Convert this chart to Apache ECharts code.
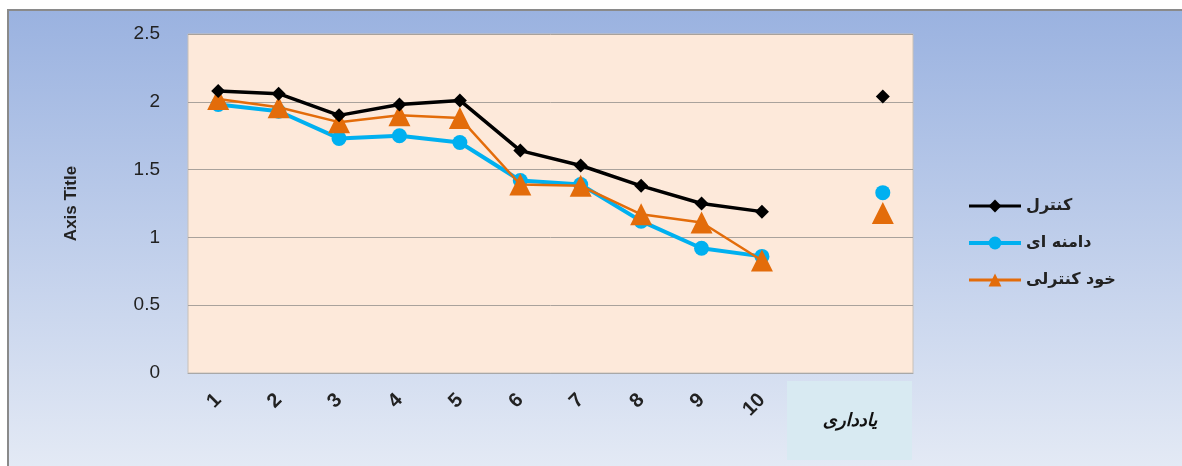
<!DOCTYPE html>
<html><head><meta charset="utf-8">
<script src="https://cdn.jsdelivr.net/npm/echarts@6/dist/echarts.min.js"></script>
<style>html,body{margin:0;padding:0;background:#fff}#c{width:1182px;height:466px}</style>
</head><body><div id="c"></div>
<script>
const categories = ['1','2','3','4','5','6','7','8','9','10','','یادداری'];
const tickLabels = ['1','2','3','4','5','6','7','8','9','10','',''];
const retentionLabel = 'یادداری';
const seriesNames = ['کنترل','دامنه ای','خود کنترلی'];
const control     = [2.08, 2.06, 1.90, 1.98, 2.01, 1.64, 1.53, 1.38, 1.25, 1.19, null, 2.04];
const domain      = [1.98, 1.93, 1.73, 1.75, 1.70, 1.42, 1.39, 1.12, 0.92, 0.86, null, 1.33];
const selfControl = [2.02, 1.96, 1.85, 1.90, 1.88, 1.39, 1.38, 1.17, 1.11, 0.83, null, 1.18];
const yTicks = {min: 0, max: 2.5, interval: 0.5};

const chart = echarts.init(document.getElementById('c'), null, {renderer: 'canvas'});
const fa = "'DejaVu Sans', sans-serif";
chart.setOption({
  animation: false,
  graphic: [
    {type: 'rect', z: -10, silent: true,
     shape: {x: 8, y: 10, width: 1180, height: 460},
     style: {fill: new echarts.graphic.LinearGradient(0, 0, 0, 1, [
        {offset: 0, color: '#9ab2e0'}, {offset: 1, color: '#e4eaf5'}]),
        stroke: '#8a8a8a', lineWidth: 2}},
    {type: 'rect', z: -5, silent: true,
     shape: {x: 787, y: 381, width: 125, height: 79},
     style: {fill: '#d8eaf2'}},
    {type: 'text', z: 10, silent: true, x: 850, y: 421,
     style: {text: retentionLabel, align: 'center', verticalAlign: 'middle',
       font: "italic bold 18px 'DejaVu Sans', sans-serif", fill: '#111'}}
  ],
  grid: {left: 188, right: 269, top: 34, bottom: 93, show: true,
         backgroundColor: '#fde9da', borderColor: '#c8c0b8', borderWidth: 1},
  legend: {
    orient: 'vertical', left: 962, top: 193, itemGap: 21,
    itemWidth: 52, itemHeight: 16,
    textStyle: {fontFamily: fa, fontWeight: 'bold', fontSize: 16, color: '#222'},
    data: [
      {name: seriesNames[0], lineStyle: {width: 3}},
      {name: seriesNames[1], lineStyle: {width: 4}},
      {name: seriesNames[2], lineStyle: {width: 3}}
    ]
  },
  xAxis: {
    type: 'category', data: categories, boundaryGap: true,
    axisLine: {show: true, lineStyle: {color: '#a8a8a8'}},
    axisTick: {show: false},
    axisLabel: {
      interval: 0, rotate: 45, margin: 24,
      formatter: (v, i) => tickLabels[i],
      fontFamily: "'Liberation Sans', sans-serif", fontWeight: 'bold', fontSize: 20, color: '#222'
    },
    splitLine: {show: false}
  },
  yAxis: {
    type: 'value', min: yTicks.min, max: yTicks.max, interval: yTicks.interval,
    name: 'Axis Title', nameLocation: 'middle', nameGap: 108, nameRotate: 90,
    nameTextStyle: {fontFamily: "'Liberation Sans Narrow', 'Liberation Sans', sans-serif",
      fontWeight: 'bold', fontSize: 17, color: '#222'},
    axisLine: {show: false}, axisTick: {show: false},
    axisLabel: {margin: 28, fontFamily: "'Liberation Sans', sans-serif", fontSize: 19, color: '#222'},
    splitLine: {show: true, lineStyle: {color: '#a9a29c', width: 1}}
  },
  series: [
    {name: seriesNames[0], type: 'line', data: control, connectNulls: false,
     symbol: 'diamond', symbolSize: 14, z: 5,
     lineStyle: {color: '#000', width: 3.5}, itemStyle: {color: '#000'}},
    {name: seriesNames[1], type: 'line', data: domain, connectNulls: false,
     symbol: 'circle', symbolSize: 15, z: 3,
     lineStyle: {color: '#00b0f0', width: 4}, itemStyle: {color: '#00b0f0'}},
    {name: seriesNames[2], type: 'line', data: selfControl, connectNulls: false,
     symbol: 'triangle', symbolSize: 22, z: 4,
     lineStyle: {color: '#e36c0a', width: 2.5}, itemStyle: {color: '#e36c0a'}}
  ]
});
</script></body></html>
